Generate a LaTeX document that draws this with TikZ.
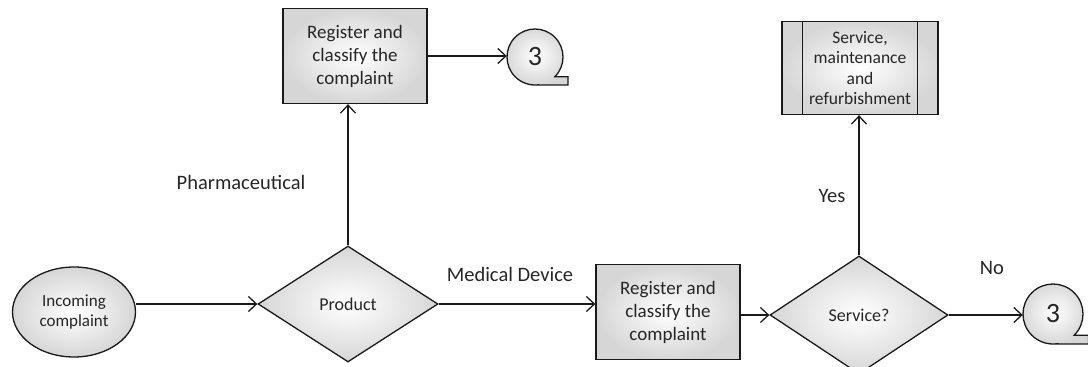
\documentclass[tikz,border=0pt]{standalone}
\usepackage{fontspec}
\setmainfont{Carlito}
\usetikzlibrary{shapes.geometric,arrows.meta,calc}
\tikzset{
  shapefill/.style={draw=black!90, line width=1.3pt, inner color=white, outer color=black!16},
  nodetext/.style={align=center, text=black!85, font=\fontsize{19}{23}\selectfont},
  regbox/.style={shapefill, nodetext, rectangle, inner sep=0pt, minimum width=144pt, minimum height=95pt},
  decision/.style={shapefill, nodetext, diamond, inner sep=0pt, font=\fontsize{18}{22}\selectfont},
  startell/.style={shapefill, nodetext, ellipse, inner sep=0pt, minimum width=123pt, minimum height=90pt, font=\fontsize{17}{20}\selectfont},
  refanchor/.style={circle, draw=none, inner sep=0pt, text=black!85, font=\fontsize{28}{30}\selectfont},
  conn/.style={draw=black!90, line width=1.3pt, -{Straight Barb[length=8pt,width=15pt,line width=1.3pt]}},
  lbl/.style={text=black!85, font=\fontsize{20.5}{24}\selectfont, inner sep=0pt},
}
\newcommand\tailcirc[2]{%
  \path[shapefill] ($(#1.center)+(-45:#2)$) arc[start angle=-45, end angle=275, radius=#2]
    -- ($(#1.center)+(1.18*#2,-#2)$) -- ($(#1.center)+(1.18*#2,-0.707*#2)$) -- cycle;
}
\begin{document}
\begin{tikzpicture}[x=1pt,y=1pt]
\useasboundingbox (0,0) rectangle (1088,-367);
% shapes
\node[startell] (inc) at (74,-312) {Incoming\\complaint};
\node[decision, minimum width=180pt, minimum height=116pt] (prod) at (348,-304) {Product};
\node[regbox] (reg1) at (355,-56) {Register and\\classify the\\complaint};
\node[regbox] (reg2) at (668,-312) {Register and\\classify the\\complaint};
\node[decision, minimum width=178pt, minimum height=118pt] (svc) at (859,-315) {Service?};
\node[shapefill, nodetext, rectangle, inner sep=0pt, minimum width=156pt, minimum height=93pt,
      font=\fontsize{17.5}{20.5}\selectfont] (smr) at (860,-68) {Service,\\maintenance\\and\\refurbishment};
\draw[draw=black!90, line width=1.3pt] ([xshift=21pt]smr.north west) -- ([xshift=21pt]smr.south west)
  ([xshift=-21pt]smr.north east) -- ([xshift=-21pt]smr.south east);
\node[refanchor, minimum size=56pt] (c1) at (535,-57) {};
\tailcirc{c1}{28pt}
\node[refanchor] (c1t) at (c1.center) {3};
\node[refanchor, minimum size=60pt] (c2) at (1053,-314) {};
\tailcirc{c2}{30pt}
\node[refanchor] (c2t) at (c2.center) {3};
% labels
\node[lbl] (lph) at (241,-182) {Pharmaceutical};
\node[lbl] (lmd) at (510,-274) {Medical Device};
\node[lbl] (lyes) at (832,-196) {Yes};
\node[lbl] (lno) at (992,-268) {No};
% connectors
\draw[conn] (inc.east |- prod.west) -- (prod.west);
\draw[conn] (prod.north) -- (prod.north |- reg1.south);
\draw[conn] (reg1.east) -- (c1.west |- reg1.east);
\draw[conn] (prod.east) -- (reg2.west |- prod.east);
\draw[conn] (reg2.east |- svc.west) -- (svc.west);
\draw[conn] (svc.north) -- (svc.north |- smr.south);
\draw[conn] (svc.east) -- (c2.west |- svc.east);
\end{tikzpicture}
\end{document}
